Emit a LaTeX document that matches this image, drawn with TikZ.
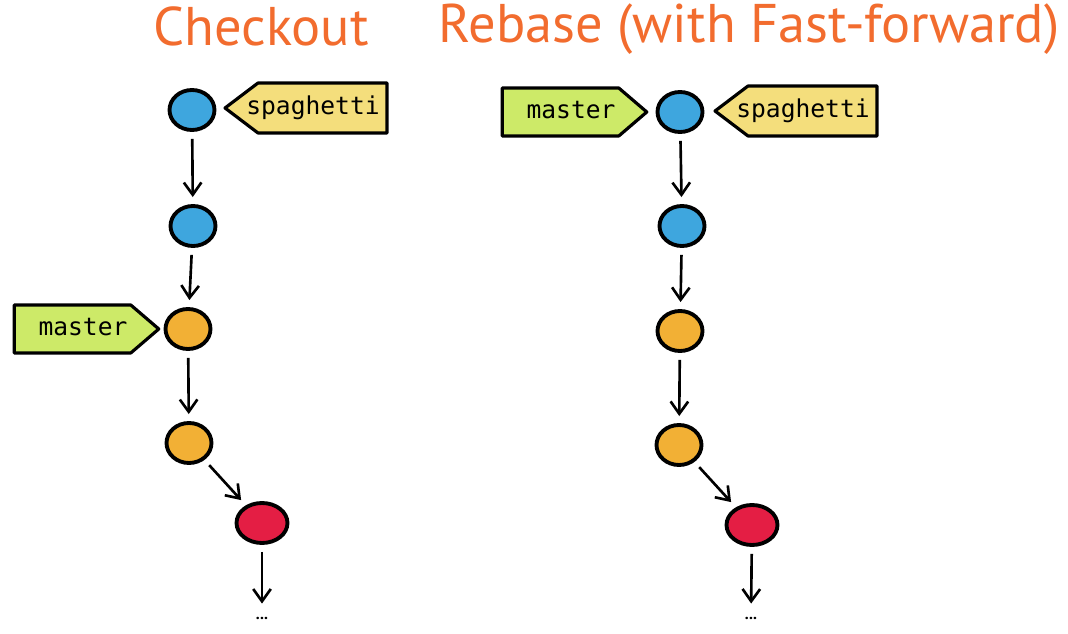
\documentclass[tikz,border=0pt]{standalone}
\usepackage{fontspec}
\setmainfont{PT Sans}
\setmonofont{DejaVu Sans Mono}
\usetikzlibrary{arrows.meta}
\usetikzlibrary{shapes.geometric,backgrounds}

\definecolor{titleorange}{HTML}{F26C2E}
\definecolor{cblue}{HTML}{3EA6DE}
\definecolor{corange}{HTML}{F2B035}
\definecolor{cred}{HTML}{E41E44}
\definecolor{tgreen}{HTML}{CDEA68}
\definecolor{tyellow}{HTML}{F4DE7C}

\tikzset{
  commit/.style={ellipse, draw=black, line width=2.2pt, minimum width=0.9cm, minimum height=0.8cm, inner sep=0pt},
  tag/.style={inner sep=0pt, text height=10pt, text depth=3pt, font=\ttfamily\fontsize{14}{16}\selectfont},
  tagline/.style={draw=black, line width=1.8pt, line join=round},
  title/.style={text=titleorange, font=\fontsize{31}{37}\selectfont},
  parent/.style={-{Straight Barb[length=7pt,width=10pt,line width=1.5pt]}, line width=1.5pt, shorten >=4pt, shorten <=4pt}
}

% outline of a tag that points left (#1 = node, #2 = colour)
\newcommand\tagpointleft[2]{
  \begin{scope}[on background layer]
    \draw[tagline, fill=#2] ([shift={(7,-25)}]#1.east) -- ([shift={(7,25)}]#1.east)
      -- ([shift={(12,25)}]#1.west) -- ([shift={(-21,0)}]#1.west)
      -- ([shift={(12,-25)}]#1.west) -- cycle;
  \end{scope}
}
% outline of a tag that points right
\newcommand\tagpointright[2]{
  \begin{scope}[on background layer]
    \draw[tagline, fill=#2] ([shift={(-24,-24)}]#1.west) -- ([shift={(-24,24)}]#1.west)
      -- ([shift={(3,24)}]#1.east) -- ([shift={(31,0)}]#1.east)
      -- ([shift={(3,-24)}]#1.east) -- cycle;
  \end{scope}
}

\begin{document}
\begin{tikzpicture}[x=0.02cm, y=-0.02cm]
  \useasboundingbox (0,0) rectangle (1068,634);
  % checkout
  \node[title] (tcheck) at (261,26) {Checkout};
  \node[commit, fill=cblue] (a1) at (192,110) {};
  \node[commit, fill=cblue] (a2) at (193,226) {};
  \node[commit, fill=corange] (a3) at (188,329) {};
  \node[commit, fill=corange] (a4) at (189,443) {};
  \node[commit, fill=cred, minimum width=1.02cm] (a5) at (262,523) {};
  \node[font=\bfseries\small] (adots) at (262,618) {...};
  \node[tag] (aspag) at (313,108) {spaghetti};
  \tagpointleft{aspag}{tyellow}
  \node[tag] (amaster) at (83,329) {master};
  \tagpointright{amaster}{tgreen}
  \draw[parent] (a1) -- (a2);
  \draw[parent] (a2) -- (a3);
  \draw[parent] (a3) -- (a4);
  \draw[parent] (a4) -- (a5);
  \draw[parent] (a5) -- (adots);

  % rebase
  \node[title] (trebase) at (749,29) {Rebase (with Fast-forward)};
  \node[commit, fill=cblue] (b1) at (680,112) {};
  \node[commit, fill=cblue] (b2) at (682,226) {};
  \node[commit, fill=corange] (b3) at (680,331) {};
  \node[commit, fill=corange] (b4) at (679,445) {};
  \node[commit, fill=cred, minimum width=1.02cm] (b5) at (752,525) {};
  \node[font=\bfseries\small] (bdots) at (751,618) {...};
  \node[tag] (bmaster) at (571,112) {master};
  \tagpointright{bmaster}{tgreen}
  \node[tag] (bspag) at (803,111) {spaghetti};
  \tagpointleft{bspag}{tyellow}
  \draw[parent] (b1) -- (b2);
  \draw[parent] (b2) -- (b3);
  \draw[parent] (b3) -- (b4);
  \draw[parent] (b4) -- (b5);
  \draw[parent] (b5) -- (bdots);
\end{tikzpicture}
\end{document}
